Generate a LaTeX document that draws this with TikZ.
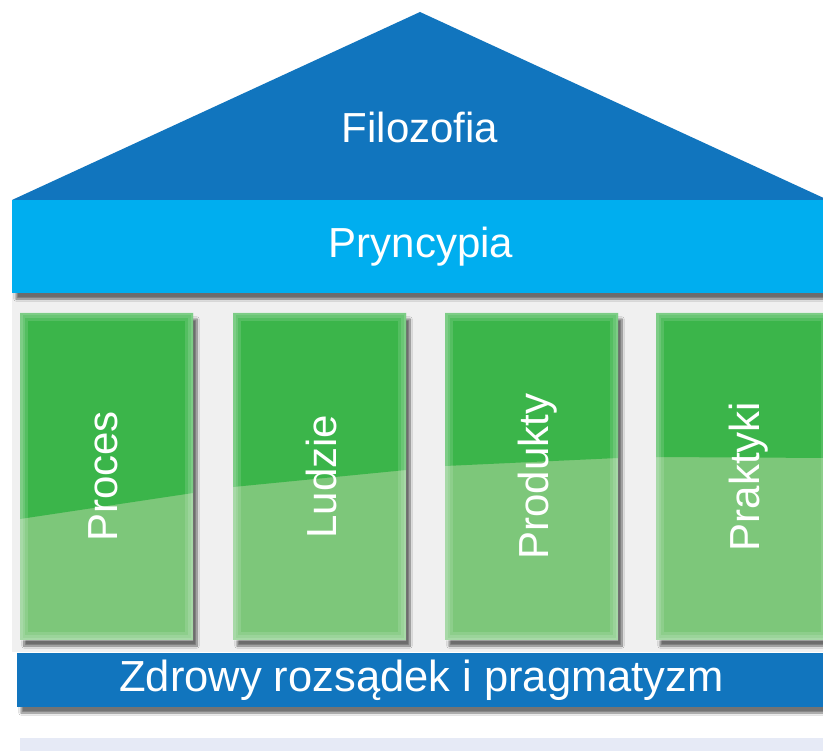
\documentclass[tikz,border=0pt]{standalone}
\usepackage{fontspec}
\setmainfont{Liberation Sans}
\usetikzlibrary{shadows.blur}
\definecolor{roofblue}{HTML}{1175BE}
\definecolor{bandcyan}{HTML}{00AEEF}
\definecolor{pillartop}{HTML}{3BB54A}
\definecolor{pillarlow}{HTML}{7DC77A}
\definecolor{groundstrip}{HTML}{E6EAF6}
\begin{document}
\begin{tikzpicture}[
  x=1pt, y=-1pt,
  caption/.style={text=white, inner sep=0pt, font=\fontsize{42}{48}\selectfont},
  softshadow/.style={blur shadow={shadow xshift=4pt, shadow yshift=-6pt, shadow blur steps=10, shadow opacity=55}},
  band/.style={rectangle, inner sep=0pt, softshadow, caption},
  pillar/.style 2 args={rectangle, inner sep=0pt, minimum width=173pt, minimum height=327pt,
    fill=pillarlow, softshadow,
    path picture={
      \fill[pillartop] (path picture bounding box.north west) -- (path picture bounding box.north east)
        -- ([yshift=#2]path picture bounding box.north east) -- ([yshift=#1]path picture bounding box.north west) -- cycle;
      \foreach \w in {16,10,5}
        \draw[white, opacity=0.13, line width=\w pt] (path picture bounding box.north west) rectangle (path picture bounding box.south east);
    }}
]
\useasboundingbox (0,0) rectangle (823,751);
\clip (0,0) rectangle (823,751);
\fill[white] (0,0) rectangle (823,751);
\fill[black!6] (12,293) rectangle (830,652);

% Roof
\fill[roofblue, softshadow] (12,200) -- (420,12) -- (828,200) -- cycle;
\node[caption, anchor=base] (filozofia) at (420,143) {Filozofia};

% Beam
\node[band, fill=bandcyan, minimum width=818pt, minimum height=93pt] (pryncypia) at (421,246.5) {Pryncypia};

% Pillars
\node[pillar={-206pt}{-180pt}] (proces) at (106.5,476.5) {};
\node[pillar={-174pt}{-157pt}] (ludzie) at (319.5,476.5) {};
\node[pillar={-153pt}{-145pt}] (produkty) at (531.5,476.5) {};
\node[pillar={-144pt}{-145pt}] (praktyki) at (742.5,476.5) {};
\node[caption, rotate=90, anchor=base] (proces-t) at ([xshift=11pt]proces.center) {Proces};
\node[caption, rotate=90, anchor=base] (ludzie-t) at ([xshift=17pt]ludzie.center) {Ludzie};
\node[caption, rotate=90, anchor=base] (produkty-t) at ([xshift=17pt]produkty.center) {Produkty};
\node[caption, rotate=90, anchor=base] (praktyki-t) at ([xshift=17pt]praktyki.center) {Praktyki};

% Foundation
\node[band, fill=roofblue, minimum width=809pt, minimum height=54pt,
  font=\fontsize{43.5}{48}\selectfont] (rozsadek) at (421.5,680) {Zdrowy rozsądek i pragmatyzm};
\fill[groundstrip] (20,738) rectangle (830,751);
\end{tikzpicture}
\end{document}
